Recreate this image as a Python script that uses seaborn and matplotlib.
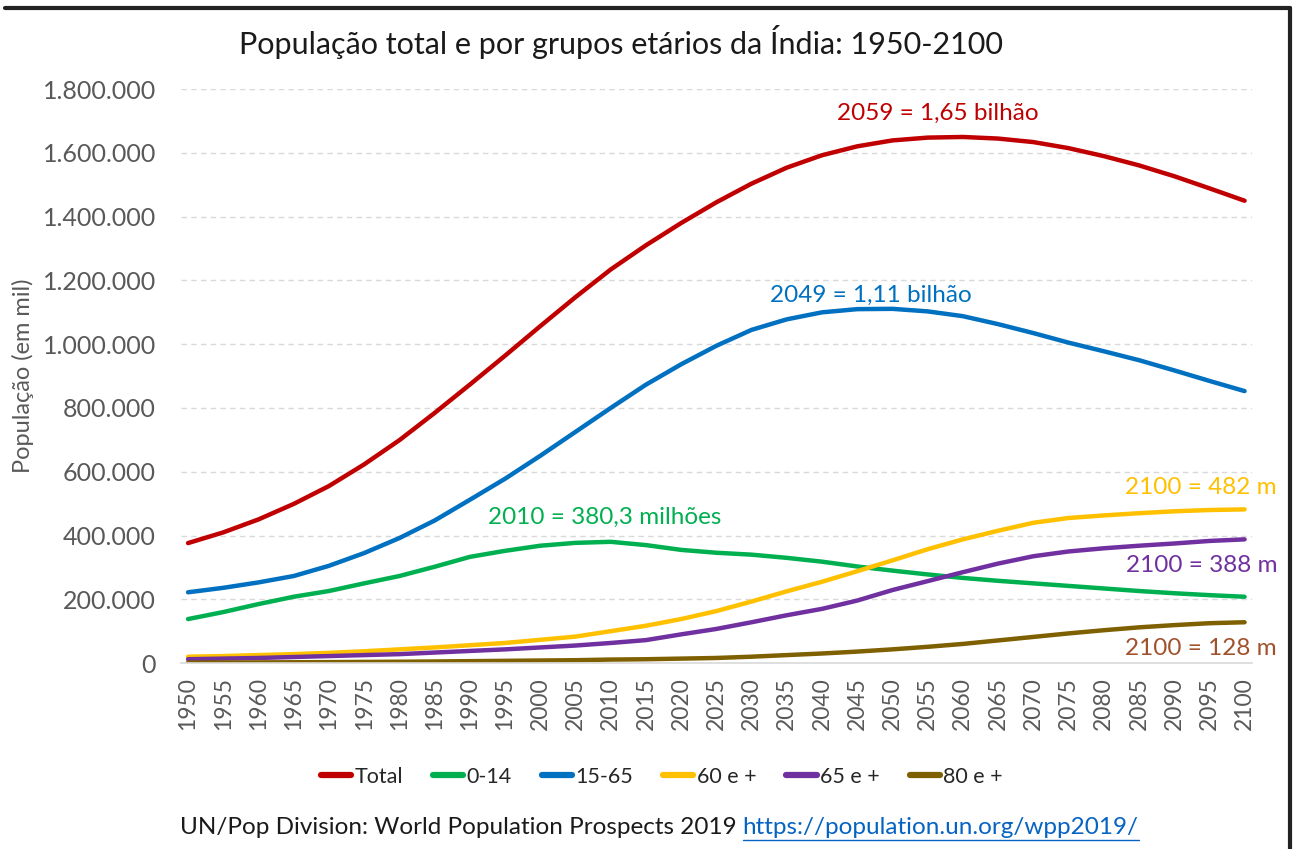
import matplotlib.pyplot as plt
import matplotlib.lines as mlines
import pandas as pd
import seaborn as sns

# anos (a cada 5)
years = list(range(1950, 2101, 5))

# população em mil
total = [376325, 409880, 450548, 499123, 555190, 623103, 698953, 784360, 873278, 963923,
         1056576, 1147610, 1234281, 1310152, 1380004, 1445012, 1503642, 1553723, 1592692,
         1620619, 1639176, 1648000, 1650000, 1645000, 1634000, 1615000, 1590000, 1561000,
         1527000, 1489000, 1450000]
age_0_14 = [138000, 160000, 185000, 208000, 226000, 250000, 273000, 302000, 333000, 352000,
            368000, 377000, 380300, 370000, 355000, 346000, 340000, 330000, 318000, 303000,
            290000, 278000, 267000, 258000, 250000, 242000, 234000, 226000, 219000, 213000,
            208000]
age_15_65 = [222000, 236000, 253000, 273000, 305000, 345000, 392000, 447000, 512000, 578000,
             650000, 725000, 800000, 873000, 937000, 995000, 1045000, 1078000, 1100000,
             1110000, 1111000, 1103000, 1088000, 1063000, 1035000, 1005000, 978000, 950000,
             918000, 885000, 853000]
age_60 = [20000, 22000, 25000, 28000, 32000, 37000, 43000, 49000, 56000, 63000, 73000, 83000,
          100000, 117000, 138000, 163000, 193000, 225000, 255000, 288000, 322000, 357000,
          388000, 415000, 440000, 455000, 463000, 470000, 476000, 480000, 482000]
age_65 = [12000, 14000, 16000, 19000, 22000, 25000, 28000, 33000, 38000, 43000, 49000, 55000,
          63000, 72000, 90000, 107000, 128000, 150000, 170000, 196000, 229000, 257000, 285000,
          312000, 335000, 350000, 360000, 368000, 375000, 383000, 388000]
age_80 = [1500, 1800, 2100, 2500, 3000, 3600, 4200, 5000, 6000, 7000, 8000, 9000, 11000,
          12000, 14000, 16000, 20000, 25000, 30000, 36000, 43000, 51000, 60000, 71000, 82000,
          93000, 103000, 112000, 119000, 125000, 128000]

series_names = ["Total", "0-14", "15-65", "60 e +", "65 e +", "80 e +"]
series_values = [total, age_0_14, age_15_65, age_60, age_65, age_80]
colors = ["#C00000", "#00B050", "#0070C0", "#FFC000", "#7030A0", "#7F6000"]

rows = []
for name, vals in zip(series_names, series_values):
    for y, v in zip(years, vals):
        rows.append({"ano": y, "pop": v, "grupo": name})
df = pd.DataFrame(rows)

sns.set_style("white")
plt.rcParams['font.family'] = ['Lato', 'DejaVu Sans']

fig = plt.figure(figsize=(12.93, 8.49), dpi=100)
ax = fig.add_axes([0.140, 0.219, 0.828, 0.676])

sns.lineplot(data=df, x="ano", y="pop", hue="grupo", hue_order=series_names,
             palette=colors, linewidth=3.2, ax=ax, legend=False)

ax.set_xlim(1949, 2101)
ax.set_ylim(0, 1800000)
ax.set_yticks(range(0, 1800001, 200000))
ax.set_yticklabels([f"{v:,}".replace(",", ".") for v in range(0, 1800001, 200000)],
                   fontsize=18, color="#595959")
ax.set_xticks(years)
ax.set_xticklabels([str(y) for y in years], rotation=90, fontsize=16.5, color="#595959")
ax.tick_params(axis="y", length=0, pad=18)
ax.tick_params(axis="x", length=0, pad=10)

ax.yaxis.grid(True, linestyle=(0, (4, 3)), color="#D9D9D9", linewidth=1)
ax.xaxis.grid(False)
for s in ["top", "right", "left"]:
    ax.spines[s].set_visible(False)
ax.spines["bottom"].set_color("#D9D9D9")
ax.spines["bottom"].set_linewidth(1.2)

ax.set_xlabel("")
ax.set_ylabel("População (em mil)", fontsize=17, color="#595959", labelpad=6)

fig.text(0.48, 0.950, "População total e por grupos etários da Índia: 1950-2100",
         ha="center", va="center", fontsize=22, color="#1a1a1a")

# anotações
fs_ann = 17.5
ax.text(2056.4, 1724000, "2059 = 1,65 bilhão", color="#C00000", fontsize=fs_ann, ha="center", va="center")
ax.text(2046.9, 1154000, "2049 = 1,11 bilhão", color="#0070C0", fontsize=fs_ann, ha="center", va="center")
ax.text(2009.1, 458000, "2010 = 380,3 milhões", color="#00B050", fontsize=fs_ann, ha="center", va="center")
ax.text(2104.5, 552000, "2100 = 482 m", color="#FFC000", fontsize=fs_ann, ha="right", va="center")
ax.text(2104.7, 307000, "2100 = 388 m", color="#7030A0", fontsize=fs_ann, ha="right", va="center")
ax.text(2104.5, 47000, "2100 = 128 m", color="#A0522D", fontsize=fs_ann, ha="right", va="center")

handles = [mlines.Line2D([], [], color=c, linewidth=4.5) for c in colors]
fig.legend(handles, series_names, loc="center", bbox_to_anchor=(0.512, 0.085), ncol=6,
           frameon=False, fontsize=15.5, handlelength=1.4, handletextpad=0.15, columnspacing=1.4)

t1 = fig.text(0.139, 0.013, "UN/Pop Division: World Population Prospects 2019 ",
              fontsize=17.5, color="#1a1a1a", ha="left", va="bottom")
fig.canvas.draw()
bb = t1.get_window_extent().transformed(fig.transFigure.inverted())
t2 = fig.text(bb.x1, 0.013, "https://population.un.org/wpp2019/", fontsize=17.5, color="#0563C1",
              ha="left", va="bottom", url="https://population.un.org/wpp2019/")
fig.canvas.draw()
bb2 = t2.get_window_extent().transformed(fig.transFigure.inverted())
fig.add_artist(mlines.Line2D([bb2.x0, bb2.x1], [0.011, 0.011], color="#0563C1", linewidth=1))

# moldura da captura
fig.add_artist(mlines.Line2D([0.004, 0.998], [0.991, 0.991], color="#222222", linewidth=3))
fig.add_artist(mlines.Line2D([0.998, 0.998], [0.0, 0.991], color="#222222", linewidth=3))

fig.savefig("out.png", dpi=100)
